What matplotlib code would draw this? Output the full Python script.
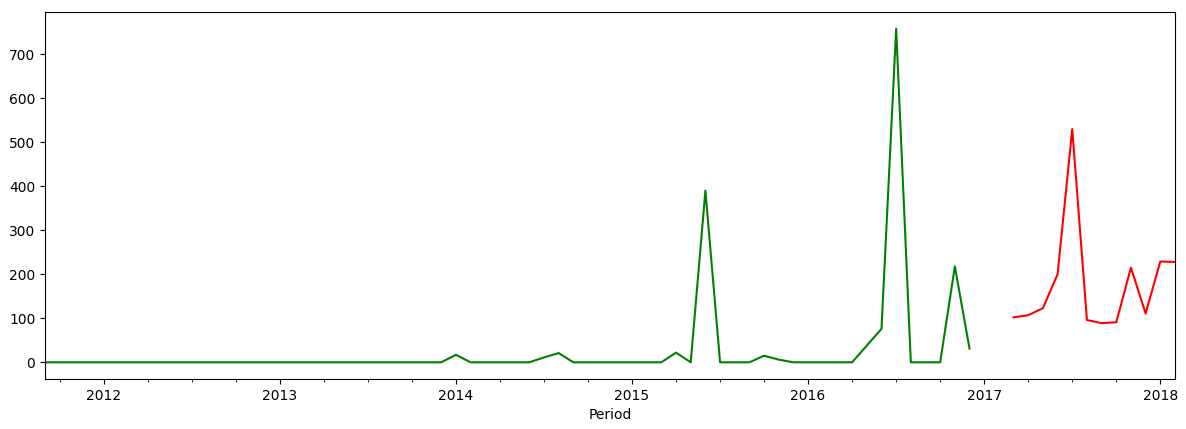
import matplotlib
matplotlib.use("Agg")
import matplotlib.pyplot as plt
import pandas as pd

# monthly values, green series 2011-09 .. 2016-12
green_start = "2011-09"
green_values = [
    0, 0, 0, 0,                                  # 2011-09 .. 2011-12
    0, 0, 0, 0, 0, 0, 0, 0, 0, 0, 0, 0,          # 2012
    0, 0, 0, 0, 0, 0, 0, 0, 0, 0, 0, 0,          # 2013
    17, 0, 0, 0, 0, 0, 11, 21, 0, 0, 0, 0,       # 2014
    0, 0, 0, 22, 0, 390, 0, 0, 0, 15, 6, 0,      # 2015
    0, 0, 0, 0, 38, 76, 758, 0, 0, 0, 218, 31,   # 2016
]

# red series 2017-03 .. 2018-02
red_start = "2017-03"
red_values = [102, 107, 123, 200, 530, 96, 89, 91, 215, 111, 229, 228]

green = pd.Series(green_values,
                  index=pd.period_range(green_start, periods=len(green_values), freq="M", name="Period"))
red = pd.Series(red_values,
                index=pd.period_range(red_start, periods=len(red_values), freq="M", name="Period"))

fig, ax = plt.subplots(figsize=(11.86, 4.29), dpi=100)
plt.subplots_adjust(left=0.038, right=0.9907, bottom=0.1166, top=0.972)

green.plot(ax=ax, color="green")
red.plot(ax=ax, color="red")

ax.set_xlim(green.index[0], red.index[-1])
ax.set_xlabel("Period")

fig.savefig("out.png", dpi=100)
